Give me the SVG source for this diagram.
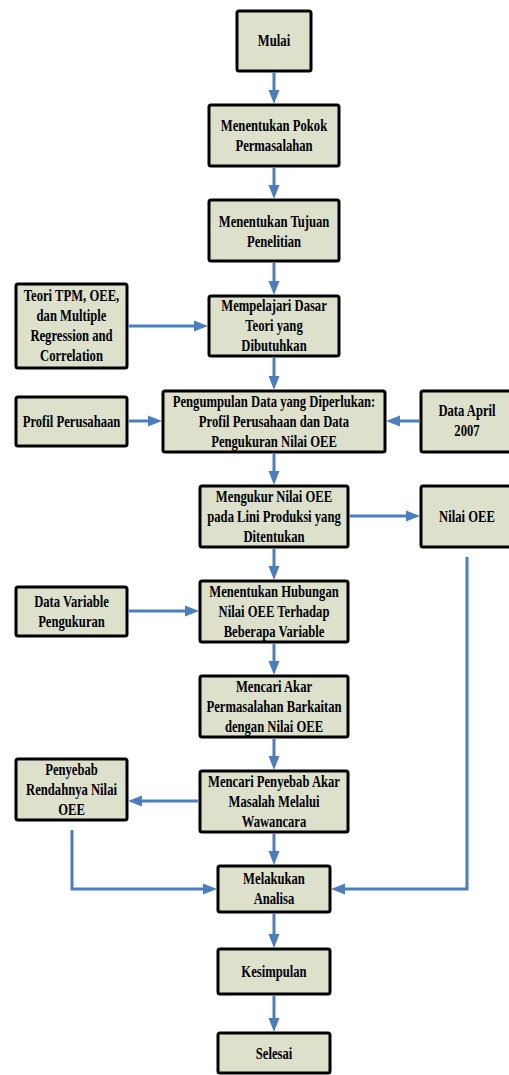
<svg xmlns="http://www.w3.org/2000/svg" width="509" height="1075" viewBox="0 0 509 1075">
<style>
.b{fill:#dde1cc;stroke:#000;stroke-width:3}
.t{font-family:"Liberation Serif","Times New Roman",serif;font-weight:bold;font-size:16px;text-anchor:middle;fill:#000}
.c{fill:none;stroke:#4a7ebf;stroke-width:3;marker-end:url(#ah)}
</style>
<defs>
<marker id="ah" markerUnits="userSpaceOnUse" markerWidth="14" markerHeight="12" refX="4" refY="6" orient="auto"><path d="M0,0.5 L14,6 L0,11.5z" fill="#4a7ebf"/></marker>
</defs>
<rect width="509" height="1075" fill="#fff"/>
<g id="nodes">
<g id="n-mulai"><rect class="b" x="237" y="11" width="74" height="60" rx="2"/><g transform="translate(274 0) scale(0.79 1)"><text class="t" x="0" y="46.5">Mulai</text></g></g>
<g id="n-pokok"><rect class="b" x="209" y="105" width="130" height="61" rx="2"/><g transform="translate(274 0) scale(0.79 1)"><text class="t" x="0" y="131.5">Menentukan Pokok</text><text class="t" x="0" y="151.5">Permasalahan</text></g></g>
<g id="n-tujuan"><rect class="b" x="209" y="200" width="130" height="61" rx="2"/><g transform="translate(274 0) scale(0.79 1)"><text class="t" x="0" y="227">Menentukan Tujuan</text><text class="t" x="0" y="247">Penelitian</text></g></g>
<g id="n-mempelajari"><rect class="b" x="209" y="296" width="130" height="60" rx="2"/><g transform="translate(274 0) scale(0.79 1)"><text class="t" x="0" y="311">Mempelajari Dasar</text><text class="t" x="0" y="331">Teori yang</text><text class="t" x="0" y="351">Dibutuhkan</text></g></g>
<g id="n-teori"><rect class="b" x="16" y="284" width="111" height="84" rx="2"/><g transform="translate(71.5 0) scale(0.79 1)"><text class="t" x="0" y="301.5">Teori TPM, OEE,</text><text class="t" x="0" y="321.5">dan Multiple</text><text class="t" x="0" y="341.5">Regression and</text><text class="t" x="0" y="361.5">Correlation</text></g></g>
<g id="n-pengumpulan"><rect class="b" x="163" y="391" width="222" height="61" rx="2"/><g transform="translate(274 0) scale(0.79 1)"><text class="t" x="0" y="407">Pengumpulan Data yang Diperlukan:</text><text class="t" x="0" y="427">Profil Perusahaan dan Data</text><text class="t" x="0" y="447">Pengukuran Nilai OEE</text></g></g>
<g id="n-profil"><rect class="b" x="16" y="397" width="111" height="49" rx="2"/><g transform="translate(71.5 0) scale(0.79 1)"><text class="t" x="0" y="427">Profil Perusahaan</text></g></g>
<g id="n-dataapril"><rect class="b" x="421" y="391" width="94" height="61" rx="2"/><g transform="translate(467 0) scale(0.79 1)"><text class="t" x="0" y="416">Data April</text><text class="t" x="0" y="436">2007</text></g></g>
<g id="n-mengukur"><rect class="b" x="200" y="486" width="148" height="61" rx="2"/><g transform="translate(274 0) scale(0.79 1)"><text class="t" x="0" y="502">Mengukur Nilai OEE</text><text class="t" x="0" y="522">pada Lini Produksi yang</text><text class="t" x="0" y="542">Ditentukan</text></g></g>
<g id="n-nilai"><rect class="b" x="421" y="486" width="94" height="61" rx="2"/><g transform="translate(467 0) scale(0.79 1)"><text class="t" x="0" y="522">Nilai OEE</text></g></g>
<g id="n-hubungan"><rect class="b" x="200" y="581" width="148" height="61" rx="2"/><g transform="translate(274 0) scale(0.79 1)"><text class="t" x="0" y="597">Menentukan Hubungan</text><text class="t" x="0" y="617">Nilai OEE Terhadap</text><text class="t" x="0" y="637">Beberapa Variable</text></g></g>
<g id="n-datavar"><rect class="b" x="16" y="587" width="111" height="49" rx="2"/><g transform="translate(71.5 0) scale(0.79 1)"><text class="t" x="0" y="607">Data Variable</text><text class="t" x="0" y="627">Pengukuran</text></g></g>
<g id="n-akar"><rect class="b" x="200" y="676" width="148" height="61" rx="2"/><g transform="translate(274 0) scale(0.79 1)"><text class="t" x="0" y="692">Mencari Akar</text><text class="t" x="0" y="712">Permasalahan Barkaitan</text><text class="t" x="0" y="732">dengan Nilai OEE</text></g></g>
<g id="n-wawancara"><rect class="b" x="200" y="771" width="148" height="61" rx="2"/><g transform="translate(274 0) scale(0.79 1)"><text class="t" x="0" y="787">Mencari Penyebab Akar</text><text class="t" x="0" y="807">Masalah Melalui</text><text class="t" x="0" y="827">Wawancara</text></g></g>
<g id="n-penyebab"><rect class="b" x="16" y="759" width="111" height="61" rx="2"/><g transform="translate(71.5 0) scale(0.79 1)"><text class="t" x="0" y="775">Penyebab</text><text class="t" x="0" y="795">Rendahnya Nilai</text><text class="t" x="0" y="815">OEE</text></g></g>
<g id="n-analisa"><rect class="b" x="218" y="866" width="112" height="46" rx="2"/><g transform="translate(274 0) scale(0.79 1)"><text class="t" x="0" y="884">Melakukan</text><text class="t" x="0" y="904">Analisa</text></g></g>
<g id="n-kesimpulan"><rect class="b" x="218" y="949" width="112" height="45" rx="2"/><g transform="translate(274 0) scale(0.79 1)"><text class="t" x="0" y="977">Kesimpulan</text></g></g>
<g id="n-selesai"><rect class="b" x="218" y="1033" width="112" height="40" rx="2"/><g transform="translate(274 0) scale(0.79 1)"><text class="t" x="0" y="1059.5">Selesai</text></g></g>
</g>
<g id="connectors">
<path class="c" d="M274 72.5 V94"/>
<path class="c" d="M274 167.5 V189"/>
<path class="c" d="M274 262.5 V285"/>
<path class="c" d="M274 357.5 V380"/>
<path class="c" d="M274 453.5 V475"/>
<path class="c" d="M274 548.5 V570"/>
<path class="c" d="M274 643.5 V665"/>
<path class="c" d="M274 738.5 V760"/>
<path class="c" d="M274 833.5 V855"/>
<path class="c" d="M274 913.5 V938"/>
<path class="c" d="M274 995.5 V1022"/>
<path class="c" d="M128.5 326 H198"/>
<path class="c" d="M128.5 421 H152"/>
<path class="c" d="M419.5 421 H396"/>
<path class="c" d="M349.5 516 H410"/>
<path class="c" d="M128.5 611 H189"/>
<path class="c" d="M198.5 801 H138"/>
<path class="c" d="M72 830 V889 H207"/>
<path class="c" d="M467 557 V889 H341"/>
</g>
</svg>
